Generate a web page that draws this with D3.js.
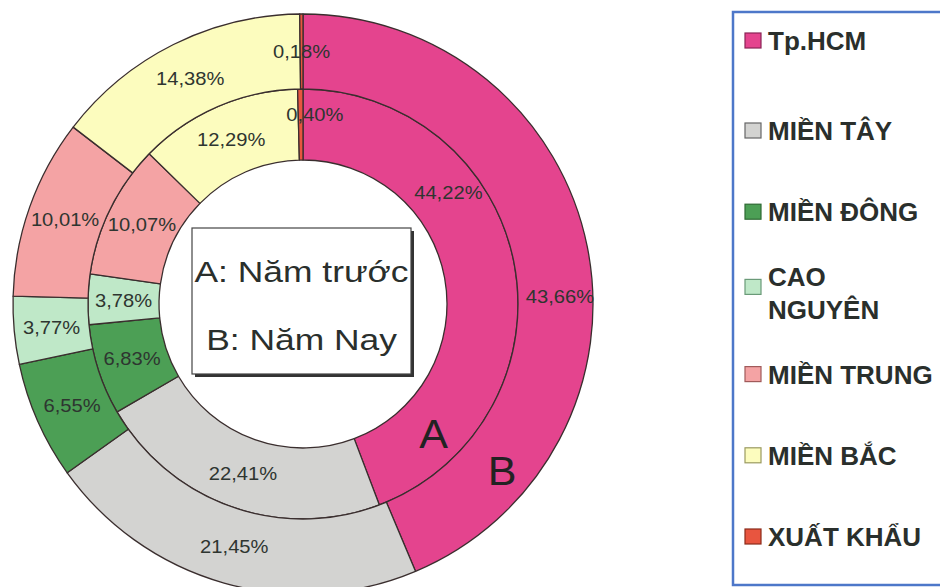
<!DOCTYPE html>
<html><head><meta charset="utf-8">
<script src="https://cdn.jsdelivr.net/npm/d3@7"></script>
<style>html,body{margin:0;padding:0;background:#fff;}svg{display:block;}</style>
</head><body>
<svg id="chart" width="940" height="587"></svg>
<script>
// ---- data ----
const categories = ["Tp.HCM","MIỀN TÂY","MIỀN ĐÔNG","CAO NGUYÊN","MIỀN TRUNG","MIỀN BẮC","XUẤT KHẨU"];
const valuesA = [44.22, 22.41, 6.83, 3.78, 10.07, 12.29, 0.40]; // A: Năm trước (inner ring)
const valuesB = [43.66, 21.45, 6.55, 3.77, 10.01, 14.38, 0.18]; // B: Năm Nay (outer ring)
const legendLines = [["Tp.HCM"],["MIỀN TÂY"],["MIỀN ĐÔNG"],["CAO","NGUYÊN"],["MIỀN TRUNG"],["MIỀN BẮC"],["XUẤT KHẨU"]];
const boxLines = ["A: Năm trước","B: Năm Nay"];
const ringNames = ["A","B"];

// ---- style / layout ----
const colors = ["#e4448e","#d3d3d1","#4c9f55","#bfe8c8","#f4a3a4","#fcfcbe","#e8553f"];
const swatchStroke = ["#8a2355","#666","#2d6a33","#6a9a78","#a05a5a","#9a9a60","#8a2a1a"];
const cx = 303, cy = 304, rIn = 144, rMid = 215, rOut = 290;
const textCol = "#2e3530";
const sx = 1.12; // horizontal stretch of the scanned text

const svg = d3.select("#chart");
const g = svg.append("g").attr("transform", `translate(${cx},${cy})`);
const pie = d3.pie().sort(null).value(d => d);
const arcA = d3.arc().innerRadius(rIn).outerRadius(rMid);
const arcB = d3.arc().innerRadius(rMid).outerRadius(rOut);
const fmt = v => d3.format(".2f")(v).replace(".", ",") + "%";

const polar = (deg, r) => [r * Math.sin(deg * Math.PI / 180), -r * Math.cos(deg * Math.PI / 180)];

// manually moved labels in the original (angle in degrees, radius)
const nudgeA = {"Tp.HCM": [52.6, 183], "XUẤT KHẨU": [3.6, 190]};
const nudgeB = {"Tp.HCM": [88.4, 257]};

function ring(values, arc, nudge) {
  const arcs = pie(values);
  g.append("g").selectAll("path").data(arcs).join("path")
    .attr("d", arc)
    .attr("fill", (d, i) => colors[i])
    .attr("stroke", "#3a2e2e").attr("stroke-width", 1.3).attr("stroke-linejoin", "round");
  g.append("g").selectAll("text").data(arcs).join("text")
    .attr("transform", (d, i) => {
      const n = nudge[categories[i]];
      const p = n ? polar(n[0], n[1]) : arc.centroid(d);
      return `translate(${p[0]},${p[1]}) scale(${sx},1)`;
    })
    .attr("text-anchor", "middle").attr("dy", "0.36em")
    .attr("font-family", "Liberation Sans, Arial, sans-serif").attr("font-size", 18)
    .attr("fill", textCol)
    .text(d => fmt(d.data));
}
ring(valuesA, arcA, nudgeA);
ring(valuesB, arcB, nudgeB);

// A / B ring markers
const ringMarks = [[134.8, 184], [129.8, 259]];
g.selectAll("text.ring").data(ringNames).join("text").attr("class", "ring")
  .attr("transform", (d, i) => { const p = polar(ringMarks[i][0], ringMarks[i][1]); return `translate(${p[0]},${p[1]}) scale(1.05,1)`; })
  .attr("text-anchor", "middle").attr("dy", "0.36em")
  .attr("font-family", "Liberation Sans, Arial, sans-serif").attr("font-size", 41)
  .attr("fill", "#222").text(d => d);

// centre box
const bx = 192, by = 228, bw = 219, bh = 146;
svg.append("rect").attr("x", bx + 3).attr("y", by + 3).attr("width", bw).attr("height", bh).attr("fill", "#333");
svg.append("rect").attr("x", bx).attr("y", by).attr("width", bw).attr("height", bh)
  .attr("fill", "#fff").attr("stroke", "#444").attr("stroke-width", 1.2);
svg.selectAll("text.box").data(boxLines).join("text").attr("class", "box")
  .attr("transform", (d, i) => `translate(${bx + bw / 2},${by + 54 + i * 68}) scale(1.18,1)`)
  .attr("text-anchor", "middle")
  .attr("font-family", "Liberation Sans, Arial, sans-serif").attr("font-size", 30)
  .attr("fill", "#2a2f2c").text(d => d);

// legend
svg.append("rect").attr("x", 733).attr("y", 12).attr("width", 240).attr("height", 573)
  .attr("fill", "#fff").attr("stroke", "#4d77c9").attr("stroke-width", 2.5);
const ly = d3.scalePoint().domain(categories).range([131, 537]);
const legendY = c => c === categories[0] ? 41 : ly(c) + (c === categories[0] ? 0 : 0);
const ly2 = d3.scalePoint().domain(categories.slice(1)).range([131, 537]);
const item = svg.append("g").selectAll("g").data(categories).join("g")
  .attr("transform", (d, i) => `translate(745,${i === 0 ? 41 : ly2(d)})`);
item.append("rect").attr("x", 0).attr("y", (d, i) => legendLines[i].length > 1 ? -14 : -8)
  .attr("width", 16).attr("height", 15)
  .attr("fill", (d, i) => colors[i]).attr("stroke", (d, i) => swatchStroke[i]).attr("stroke-width", 1.2);
item.each(function(d, i) {
  const lines = legendLines[i];
  d3.select(this).selectAll("text").data(lines).join("text")
    .attr("transform", (t, j) => `translate(23,${(j - (lines.length - 1) / 2) * 33}) scale(1.04,1)`)
    .attr("dy", "0.36em")
    .attr("font-family", "Liberation Sans, Arial, sans-serif").attr("font-size", 25).attr("font-weight", "bold")
    .attr("fill", "#2a2f2c").text(t => t);
});
</script>
</body></html>
